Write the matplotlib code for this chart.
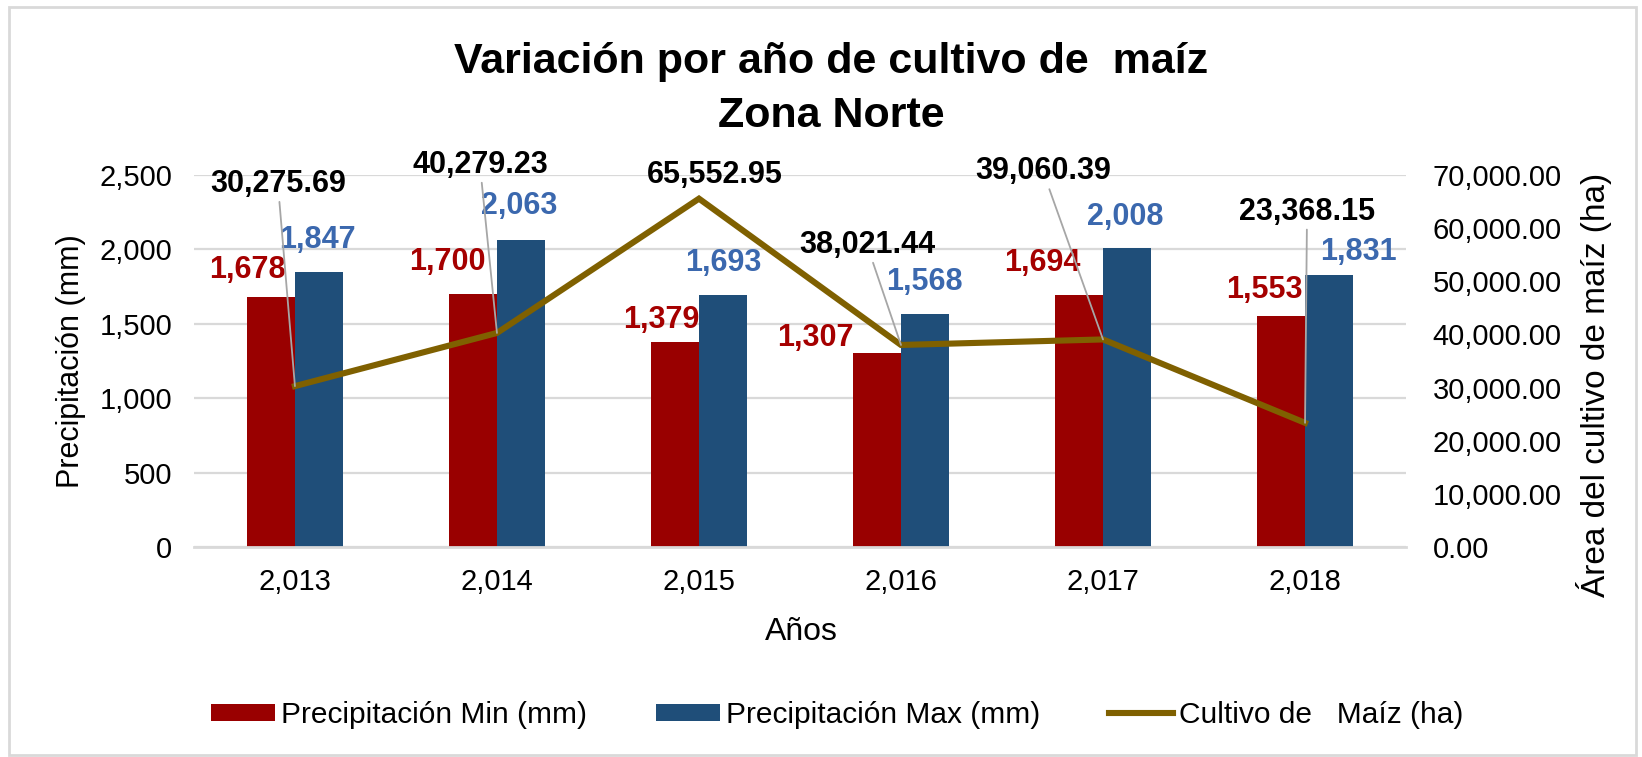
import matplotlib
matplotlib.use('Agg')
import matplotlib.pyplot as plt  # noqa: E402
from matplotlib.patches import Rectangle  # noqa: E402

plt.rcParams['font.family'] = ['Liberation Sans', 'DejaVu Sans']

years = [2013, 2014, 2015, 2016, 2017, 2018]
prec_min = [1678, 1700, 1379, 1307, 1694, 1553]
prec_max = [1847, 2063, 1693, 1568, 2008, 1831]
area_maiz = [30275.69, 40279.23, 65552.95, 38021.44, 39060.39, 23368.15]

RED = '#990000'
BLUE = '#1F4E79'
OLIVE = '#7F6000'
GRID = '#D9D9D9'

# label offsets from their anchor, in pixels (right, up)
min_off = [(-24, 27), (-26, 32), (-14, 21.5), (-62, 14.5), (-37, 32), (-17, 26)]
max_off = [(-1.5, 32), (-2, 34), (0, 32), (0, 32), (-1.5, 31.5), (29, 22.5)]
area_off = [(-17, 202), (-17, 168), (16, 23.6), (-34, 100), (-60, 168), (2, 211)]

fig = plt.figure(figsize=(16.42, 7.57), dpi=100)
ax = fig.add_axes([0.1181, 0.2774, 0.7382, 0.4914])
ax2 = ax.twinx()

x = list(range(len(years)))
w = 0.237
ax.bar([i - w / 2 for i in x], prec_min, w, color=RED, zorder=2, label='Precipitación Min (mm)')
ax.bar([i + w / 2 for i in x], prec_max, w, color=BLUE, zorder=2, label='Precipitación Max (mm)')
ln, = ax2.plot(x, area_maiz, color=OLIVE, lw=4.4, solid_joinstyle='miter', zorder=3,
               label='Cultivo de   Maíz (ha)')

ax.set_xlim(-0.5, len(years) - 0.5)
ax.set_ylim(0, 2500)
ax.set_yticks(range(0, 2501, 500))
ax.set_yticklabels([f'{v:,}' for v in range(0, 2501, 500)])
ax2.set_ylim(0, 70000)
ax2.set_yticks(range(0, 70001, 10000))
ax2.set_yticklabels([f'{v:,.2f}' for v in range(0, 70001, 10000)])
ax.set_xticks(x)
ax.set_xticklabels([f'{y:,}' for y in years])

ax.yaxis.grid(True, color=GRID, lw=1.6, zorder=0)
ax.set_axisbelow(True)
for a in (ax, ax2):
  for s in a.spines.values():
    s.set_visible(False)
  a.tick_params(length=0, labelsize=21, colors='#000000')
ax.spines['bottom'].set_visible(True)
ax.spines['bottom'].set_color(GRID)
ax.spines['bottom'].set_linewidth(2)
ax.tick_params(axis='y', pad=15.5)
ax.tick_params(axis='x', pad=15)
ax2.tick_params(axis='y', pad=19)

# data labels
for i in x:
  ax.annotate(f'{prec_min[i]:,}', (i - w / 2, prec_min[i]), xytext=min_off[i],
              textcoords='offset pixels', ha='center', va='center',
              fontsize=22, fontweight='bold', color='#A50000', zorder=5)
  ax.annotate(f'{prec_max[i]:,}', (i + w / 2, prec_max[i]), xytext=max_off[i],
              textcoords='offset pixels', ha='center', va='center',
              fontsize=22, fontweight='bold', color='#3B68AE', zorder=5)
  dx, dy = area_off[i]
  arrow = dict(arrowstyle='-', color='#A6A6A6', lw=1.3, shrinkA=0, shrinkB=0) if dy > 40 else None
  ax2.annotate(f'{area_maiz[i]:,.2f}', (i, area_maiz[i]), xytext=(dx, dy),
               textcoords='offset pixels', ha='center', va='center',
               fontsize=22, fontweight='bold', color='#000000',
               arrowprops=arrow, zorder=5)

fig.text(0.5064, 1 - 73 / 757, 'Variación por año de cultivo de  maíz', ha='center',
         va='baseline', fontsize=31, fontweight='bold')
fig.text(0.5064, 1 - 127 / 757, 'Zona Norte', ha='center', va='baseline',
         fontsize=31, fontweight='bold')
fig.text(0.0432, 0.523, 'Precipitación (mm)', rotation=90, ha='center', va='center',
         fontsize=22)
fig.text(0.9705, 0.4914, 'Área del cultivo de maíz (ha)', rotation=90, ha='center',
         va='center', fontsize=24)
fig.text(0.4878, 0.165, 'Años', ha='center', va='center', fontsize=23)

h1, l1 = ax.get_legend_handles_labels()
fig.legend(h1 + [ln], l1 + [ln.get_label()], loc='center', bbox_to_anchor=(0.5097, 0.0555),
           ncol=3, frameon=False, fontsize=21.5, handlelength=2.15, handleheight=0.5,
           handletextpad=0.2, columnspacing=2.3)

fig.patches.append(Rectangle((9 / 1642, 2 / 757), 1627 / 1642, 748 / 757,
                             transform=fig.transFigure, fill=False,
                             edgecolor=GRID, lw=2))

fig.savefig('out.png', dpi=100)
